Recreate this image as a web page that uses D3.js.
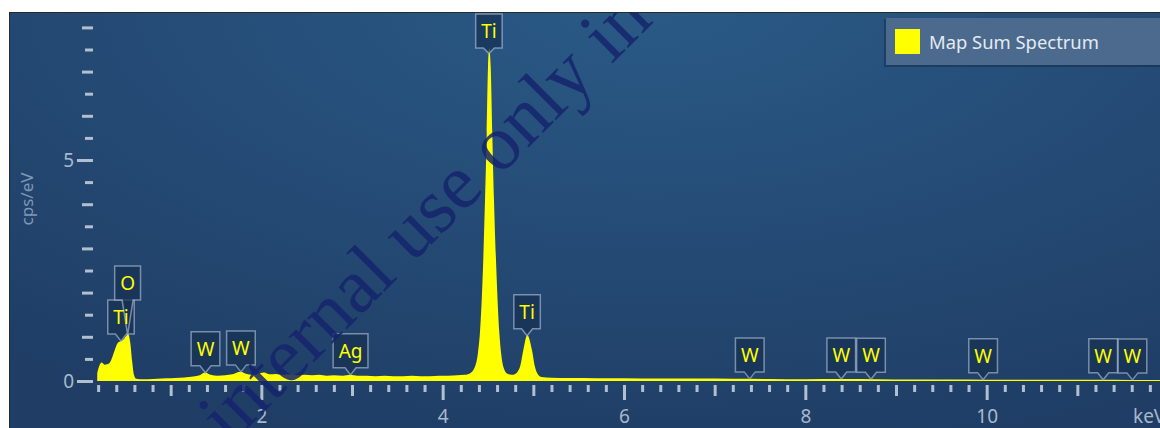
<!DOCTYPE html>
<html>
<head>
<meta charset="utf-8">
<script src="https://cdn.jsdelivr.net/npm/d3@7"></script>
<style>
  html, body { margin: 0; padding: 0; background: #ffffff; overflow: hidden; }
  svg { display: block; }
</style>
</head>
<body>
<svg id="chart" width="1160" height="428"></svg>
<script>
// ---- EDS spectrum (energy in keV, intensity in cps/eV) ----
const energies = [
  0.19, 0.21, 0.24, 0.27, 0.30, 0.33, 0.36, 0.39, 0.42, 0.45, 0.48, 0.51, 0.53, 0.555, 0.575, 0.595, 0.62, 0.66,
  0.75, 0.85, 0.95, 1.05, 1.15, 1.25, 1.32, 1.38, 1.44, 1.52, 1.60, 1.68, 1.77, 1.84, 1.92, 1.98, 2.03, 2.09,
  2.16, 2.24, 2.32, 2.40, 2.48, 2.56, 2.64, 2.72, 2.80, 2.90, 2.98, 3.06, 3.16, 3.26, 3.36, 3.46, 3.56, 3.66,
  3.76, 3.86, 3.96, 4.06, 4.16, 4.24, 4.30, 4.356, 4.39, 4.411, 4.445, 4.467, 4.486, 4.500, 4.514, 4.530,
  4.547, 4.566, 4.591, 4.625, 4.645, 4.669, 4.71, 4.76, 4.80, 4.83, 4.853, 4.89, 4.933, 4.985, 5.018, 5.05,
  5.09, 5.2, 5.4, 5.7, 6.0, 6.4, 6.8, 7.2, 7.6, 8.0, 8.4, 8.8, 9.2, 9.6, 10.0, 10.4, 10.8, 11.2, 11.6, 12.0
];
const counts = [
  0.18, 0.33, 0.42, 0.37, 0.38, 0.42, 0.56, 0.74, 0.87, 0.90, 0.94, 1.02, 1.06, 0.86, 0.45, 0.14, 0.05, 0.04,
  0.04, 0.05, 0.06, 0.07, 0.08, 0.10, 0.13, 0.19, 0.14, 0.12, 0.13, 0.15, 0.21, 0.16, 0.14, 0.17, 0.19, 0.15,
  0.16, 0.14, 0.15, 0.13, 0.14, 0.13, 0.14, 0.12, 0.13, 0.12, 0.14, 0.12, 0.12, 0.11, 0.12, 0.11, 0.11, 0.12,
  0.11, 0.11, 0.12, 0.12, 0.13, 0.14, 0.17, 0.32, 0.65, 1.09, 2.58, 4.10, 5.61, 7.10, 7.53, 7.10,
  5.61, 4.10, 2.58, 1.09, 0.62, 0.32, 0.17, 0.14, 0.16, 0.22, 0.32, 0.70, 1.04, 0.70, 0.32, 0.15,
  0.09, 0.075, 0.07, 0.065, 0.06, 0.055, 0.055, 0.05, 0.045, 0.04, 0.045, 0.04, 0.035, 0.035, 0.03, 0.03, 0.03, 0.028, 0.025, 0.025
];

// ---- identified lines ----
const peakElements = ["Ti", "O", "W", "W", "Ag", "Ti", "Ti", "W", "W", "W", "W", "W", "W"];
const peakEnergies = [0.452, 0.525, 1.384, 1.775, 2.984, 4.510, 4.931, 7.387, 8.396, 8.724, 9.961, 11.285, 11.608];

// ---- axes ----
const xTickLabels = [2, 4, 6, 8, 10];
const yTickLabels = [0, 5];
const xUnit = "keV";
const yUnit = "cps/eV";
const seriesName = "Map Sum Spectrum";
const watermark = "internal use only in";

const svg = d3.select("#chart");
const font = "'Noto Sans', 'Open Sans', sans-serif";
const tickColor = "#b2bfcf";
const textColor = "#a9b8cb";

const x = d3.scaleLinear().domain([0, 12]).range([80, 1168]);
const y = d3.scaleLinear().domain([0, 8]).range([381, 27.4]);

// ---- background panel ----
const defs = svg.append("defs");
const bg = defs.append("radialGradient")
  .attr("id", "bg").attr("gradientUnits", "userSpaceOnUse")
  .attr("cx", 650).attr("cy", 0).attr("r", 460)
  .attr("gradientTransform", "translate(650,0) scale(2.2,1) translate(-650,0)");
bg.append("stop").attr("offset", 0).attr("stop-color", "#2a5a87");
bg.append("stop").attr("offset", 1).attr("stop-color", "#1f3d65");
defs.append("clipPath").attr("id", "clip")
  .append("rect").attr("x", 10).attr("y", 13).attr("width", 1150).attr("height", 415);

svg.append("rect").attr("x", 9).attr("y", 12).attr("width", 1151).attr("height", 416).attr("fill", "#2a2a2a");
svg.append("rect").attr("x", 10).attr("y", 13).attr("width", 1150).attr("height", 415).attr("fill", "url(#bg)");

const g = svg.append("g").attr("clip-path", "url(#clip)");

// ---- spectrum ----
const spectrum = energies.map((e, i) => ({ e, v: counts[i] }));
const area = d3.area()
  .x(d => x(d.e)).y0(y(0)).y1(d => y(d.v))
  .curve(d3.curveMonotoneX);
g.append("path").datum(spectrum).attr("d", area).attr("fill", "#ffff00");

// ---- axes ----
function styleAxis(sel) {
  sel.select(".domain").remove();
  sel.selectAll(".tick line").attr("stroke", tickColor).attr("stroke-width", 3);
  sel.selectAll(".tick text").attr("fill", textColor).style("font-family", font).style("font-size", "19px");
}
const isInt = v => Math.abs(v - Math.round(v)) < 1e-6;
const xAll = d3.range(1, 60).map(i => i / 5);
const xMinor = xAll.filter(v => !isInt(v));
const xOdd = xAll.filter(v => isInt(v) && Math.round(v) % 2 === 1);

g.append("g").attr("transform", "translate(0,385)")
  .call(d3.axisBottom(x).tickValues(xMinor).tickSize(7).tickFormat(""))
  .call(styleAxis);
g.append("g").attr("transform", "translate(0,385)")
  .call(d3.axisBottom(x).tickValues(xOdd).tickSize(11).tickFormat(""))
  .call(styleAxis);
g.append("g").attr("transform", "translate(0,385)")
  .call(d3.axisBottom(x).tickValues(xTickLabels).tickSize(15).tickPadding(9.5).tickFormat(d3.format("d")))
  .call(styleAxis);

const yAll = d3.range(0, 17).map(i => i / 2);
const yHalf = yAll.filter(v => !isInt(v));
const yInt = yAll.filter(v => isInt(v) && !yTickLabels.includes(v));
g.append("g").attr("transform", "translate(93,0)")
  .call(d3.axisLeft(y).tickValues(yHalf).tickSize(8).tickFormat(""))
  .call(styleAxis);
g.append("g").attr("transform", "translate(93,0)")
  .call(d3.axisLeft(y).tickValues(yInt).tickSize(11).tickFormat(""))
  .call(styleAxis);
g.append("g").attr("transform", "translate(93,0)")
  .call(d3.axisLeft(y).tickValues(yTickLabels).tickSize(16).tickPadding(3).tickFormat(d3.format("d")))
  .call(styleAxis);

g.append("text").attr("x", 1133).attr("y", 423)
  .attr("fill", textColor).style("font-family", font).style("font-size", "19px")
  .text(xUnit);
g.append("text").attr("transform", "translate(33,199) rotate(-90)")
  .attr("text-anchor", "middle")
  .attr("fill", "#8198b4").style("font-family", font).style("font-size", "17px")
  .text(yUnit);

// ---- peak labels (callouts stacked to avoid overlap) ----
const bisect = d3.bisector(d => d.e).left;
function valueAt(e) {
  const i = Math.max(1, Math.min(spectrum.length - 1, bisect(spectrum, e)));
  const a = spectrum[i - 1], b = spectrum[i];
  const t = (e - a.e) / (b.e - a.e);
  return a.v + t * (b.v - a.v);
}
const boxH = 34, stem = 7, labelTop = 14;
const boxLayer = g.append("g");
const textLayer = g.append("g");
const placed = [];
peakElements
  .map((el, i) => ({ el, e: peakEnergies[i] }))
  .sort((a, b) => a.e - b.e)
  .forEach(p => {
    const cx = x(p.e);
    const tip = y(valueAt(p.e));
    const txt = textLayer.append("text")
      .attr("text-anchor", "middle")
      .attr("fill", "#ffff00").style("font-family", font).style("font-size", "19px")
      .text(p.el);
    const w = txt.node().getComputedTextLength() + 11;
    let bottom = tip - stem;
    let top = Math.max(labelTop, bottom - boxH);
    bottom = top + boxH;
    let moved = true;
    while (moved) {
      moved = false;
      for (const q of placed) {
        const hOverlap = Math.abs(q.cx - cx) < (q.w + w) / 2 - 2;
        const vOverlap = top < q.bottom - 1 && bottom > q.top + 1;
        if (hOverlap && vOverlap) { bottom = q.top; top = bottom - boxH; moved = true; }
      }
    }
    placed.push({ cx, w, top, bottom });
    const l = cx - w / 2, r = cx + w / 2;
    const hw = Math.max(3, Math.min(5.5, (tip - bottom) * 1.2));
    let d = `M${l},${top}H${r}V${bottom}`;
    if (tip - bottom > 0.5) d += `H${cx + hw}L${cx},${tip}L${cx - hw},${bottom}`;
    d += `H${l}Z`;
    boxLayer.append("path").attr("d", d)
      .attr("fill", "rgba(22,48,82,0.72)")
      .attr("stroke", "rgba(170,188,210,0.65)").attr("stroke-width", 1.5);
    txt.attr("x", cx).attr("y", (top + bottom) / 2 + 7);
  });

// ---- legend ----
const legend = g.append("g");
legend.append("rect").attr("x", 884).attr("y", 19).attr("width", 290).attr("height", 48)
  .attr("fill", "rgba(10,25,45,0.35)");
legend.append("rect").attr("x", 886).attr("y", 18).attr("width", 290).attr("height", 47)
  .attr("fill", "#4b6a8e");
legend.append("rect").attr("x", 895).attr("y", 29).attr("width", 25).attr("height", 25)
  .attr("fill", "#ffff00");
const lt = legend.append("text").attr("x", 929).attr("y", 49)
  .attr("fill", "#e4eaf1").style("font-family", font).style("font-size", "20px")
  .text(seriesName);
const ltw = lt.node().getComputedTextLength();
lt.style("font-size", (20 * 170 / ltw).toFixed(2) + "px");

// ---- watermark ----
g.append("text")
  .attr("transform", "translate(230,446) rotate(-45)")
  .attr("fill", "#15246c").attr("fill-opacity", 0.85)
  .style("font-family", "'Liberation Serif', 'DejaVu Serif', serif")
  .style("font-size", "78px")
  .text(watermark);
</script>
</body>
</html>
